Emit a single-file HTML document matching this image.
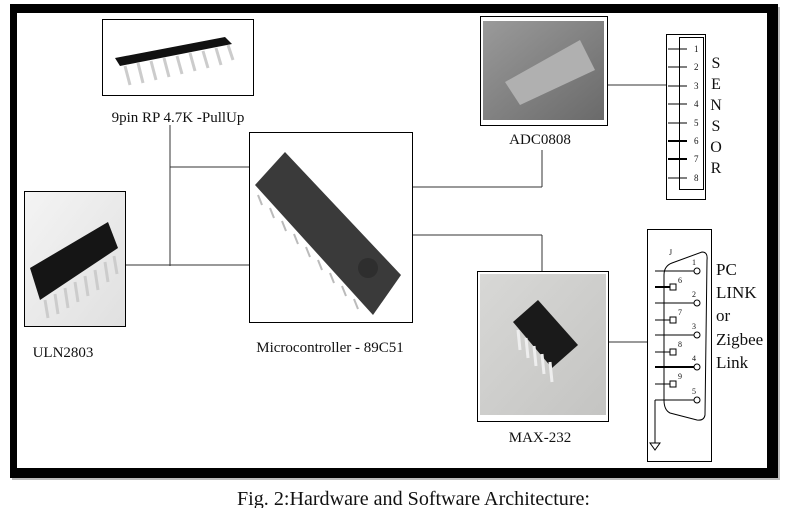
<!DOCTYPE html>
<html><head><meta charset="utf-8"><style>
html,body{margin:0;padding:0;background:#fff;}
svg{display:block;}
text{font-family:"Liberation Serif",serif;fill:#111;}
</style></head><body>
<svg width="787" height="508" viewBox="0 0 787 508" xmlns="http://www.w3.org/2000/svg">
<defs>
<linearGradient id="g1" x1="0" y1="0" x2="1" y2="1"><stop offset="0" stop-color="#f4f4f4"/><stop offset="1" stop-color="#e0e0e0"/></linearGradient>
<linearGradient id="g2" x1="0" y1="0" x2="1" y2="1"><stop offset="0" stop-color="#9a9a9a"/><stop offset="1" stop-color="#6a6a6a"/></linearGradient>
<linearGradient id="g3" x1="0" y1="0" x2="1" y2="1"><stop offset="0" stop-color="#d8d8d6"/><stop offset="1" stop-color="#c4c4c2"/></linearGradient>
</defs>
<rect x="0" y="0" width="787" height="508" fill="#fff"/>
<rect x="12" y="7" width="768" height="473" fill="#bbb"/>
<rect x="10" y="4" width="768" height="474" fill="#000"/>
<rect x="17" y="13" width="750" height="455" fill="#fff"/>

<g stroke="#333" stroke-width="1" fill="none">
<line x1="170" y1="125" x2="170" y2="266"/>
<line x1="170" y1="167" x2="249" y2="167"/>
<line x1="125" y1="265" x2="249" y2="265"/>
<line x1="412" y1="132" x2="412" y2="322"/>
<line x1="412" y1="187" x2="542" y2="187"/>
<line x1="542" y1="150" x2="542" y2="187"/>
<line x1="412" y1="235" x2="542" y2="235"/>
<line x1="542" y1="235" x2="542" y2="271"/>
<line x1="607" y1="85" x2="667" y2="85"/>
<line x1="608" y1="342" x2="647" y2="342"/>
</g>

<rect x="102.5" y="19.5" width="151" height="76" fill="#fff" stroke="#000"/>
<polygon points="115,58 225,37 232,44 120,66" fill="#111"/>
<g stroke="#ccc" stroke-width="3"><line x1="125" y1="66" x2="130" y2="85"/><line x1="138" y1="63" x2="143" y2="83"/><line x1="151" y1="61" x2="156" y2="80"/><line x1="164" y1="58" x2="169" y2="77"/><line x1="177" y1="56" x2="182" y2="74"/><line x1="190" y1="53" x2="195" y2="71"/><line x1="203" y1="51" x2="208" y2="68"/><line x1="216" y1="48" x2="221" y2="65"/><line x1="228" y1="45" x2="233" y2="60"/></g>
<text x="178" y="122" font-size="15" text-anchor="middle">9pin RP 4.7K -PullUp</text>

<rect x="24.5" y="191.5" width="101" height="135" fill="url(#g1)" stroke="#000"/>
<polygon points="30,268 108,222 118,248 40,300" fill="#151515"/>
<g stroke="#ccc" stroke-width="3"><line x1="45" y1="300" x2="48" y2="318"/><line x1="55" y1="294" x2="58" y2="314"/><line x1="65" y1="288" x2="68" y2="308"/><line x1="75" y1="282" x2="78" y2="302"/><line x1="85" y1="276" x2="88" y2="296"/><line x1="95" y1="270" x2="98" y2="290"/><line x1="105" y1="262" x2="108" y2="282"/><line x1="114" y1="256" x2="117" y2="274"/></g>
<text x="63" y="357" font-size="15" text-anchor="middle">ULN2803</text>

<rect x="249.5" y="132.5" width="163" height="190" fill="#fff" stroke="#000"/>
<polygon points="255,185 285,152 401,275 373,315" fill="#3a3a3a"/>
<g stroke="#bbb" stroke-width="2"><line x1="258" y1="195" x2="262" y2="205"/><line x1="270" y1="208" x2="274" y2="218"/><line x1="282" y1="221" x2="286" y2="231"/><line x1="294" y1="234" x2="298" y2="244"/><line x1="306" y1="247" x2="310" y2="257"/><line x1="318" y1="260" x2="322" y2="270"/><line x1="330" y1="273" x2="334" y2="283"/><line x1="342" y1="286" x2="346" y2="296"/><line x1="354" y1="299" x2="358" y2="309"/></g>
<circle cx="368" cy="268" r="10" fill="#2e2e2e"/>
<text x="330" y="352" font-size="15" text-anchor="middle">Microcontroller - 89C51</text>

<rect x="480.5" y="16.5" width="127" height="109" fill="#fff" stroke="#000"/>
<rect x="483" y="21" width="121" height="99" fill="url(#g2)"/>
<polygon points="505,82 580,40 595,70 520,105" fill="#b0b0b0"/>
<text x="540" y="144" font-size="15" text-anchor="middle">ADC0808</text>

<rect x="666.5" y="34.5" width="39" height="165" fill="#fff" stroke="#000"/>
<rect x="679.5" y="37.5" width="24" height="152" fill="none" stroke="#000"/>
<g stroke="#000" stroke-width="1">
<line x1="668" y1="49" x2="687" y2="49"/><line x1="668" y1="67" x2="687" y2="67"/><line x1="668" y1="86" x2="687" y2="86"/><line x1="668" y1="104" x2="687" y2="104"/><line x1="668" y1="123" x2="687" y2="123"/><line x1="668" y1="141" x2="687" y2="141" stroke-width="2"/><line x1="668" y1="159" x2="687" y2="159" stroke-width="2"/><line x1="668" y1="178" x2="687" y2="178"/>
</g>
<g font-size="9" font-family="Liberation Sans">
<text x="694" y="52">1</text><text x="694" y="70">2</text><text x="694" y="89">3</text><text x="694" y="107">4</text><text x="694" y="126">5</text><text x="694" y="144">6</text><text x="694" y="162">7</text><text x="694" y="181">8</text>
</g>
<g font-size="16" text-anchor="middle">
<text x="716" y="68">S</text><text x="716" y="89">E</text><text x="716" y="110">N</text><text x="716" y="131">S</text><text x="716" y="152">O</text><text x="716" y="173">R</text>
</g>

<rect x="477.5" y="271.5" width="131" height="150" fill="#fff" stroke="#000"/>
<rect x="480" y="274" width="126" height="141" fill="url(#g3)"/>
<polygon points="513,322 538,300 578,345 552,368" fill="#1a1a1a"/>
<g stroke="#eee" stroke-width="3"><line x1="518" y1="330" x2="520" y2="350"/><line x1="526" y1="338" x2="528" y2="358"/><line x1="534" y1="346" x2="536" y2="366"/><line x1="542" y1="354" x2="544" y2="374"/><line x1="550" y1="362" x2="552" y2="382"/></g>
<text x="540" y="442" font-size="15" text-anchor="middle">MAX-232</text>

<rect x="647.5" y="229.5" width="64" height="232" fill="#fff" stroke="#000"/>
<path d="M672,263 L702,252 Q708,252 707,260 L705,415 Q704,421 697,420 L670,413 Q664,410 664,400 L664,275 Q664,266 672,263 Z" fill="none" stroke="#000"/>
<g stroke="#000">
<line x1="655" y1="271" x2="694" y2="271"/><line x1="655" y1="303" x2="694" y2="303"/><line x1="655" y1="335" x2="694" y2="335"/><line x1="655" y1="367" x2="694" y2="367" stroke-width="2"/><line x1="655" y1="400" x2="694" y2="400"/>
<line x1="655" y1="287" x2="670" y2="287" stroke-width="2"/><line x1="655" y1="320" x2="670" y2="320"/><line x1="655" y1="352" x2="670" y2="352"/><line x1="655" y1="384" x2="670" y2="384"/>
<line x1="655" y1="400" x2="655" y2="443"/>
</g>
<polygon points="650,443 660,443 655,450" fill="#fff" stroke="#000"/>
<g fill="#fff" stroke="#000">
<circle cx="697" cy="271" r="3"/><circle cx="697" cy="303" r="3"/><circle cx="697" cy="335" r="3"/><circle cx="697" cy="367" r="3"/><circle cx="697" cy="400" r="3"/>
<rect x="670" y="284" width="6" height="6"/><rect x="670" y="317" width="6" height="6"/><rect x="670" y="349" width="6" height="6"/><rect x="670" y="381" width="6" height="6"/>
</g>
<g font-size="8" font-family="Liberation Sans">
<text x="692" y="265">1</text><text x="692" y="297">2</text><text x="692" y="329">3</text><text x="692" y="361">4</text><text x="692" y="394">5</text>
<text x="678" y="283">6</text><text x="678" y="315">7</text><text x="678" y="347">8</text><text x="678" y="379">9</text>
<text x="669" y="255">J</text>
</g>
<g font-size="17">
<text x="716" y="275">PC</text><text x="716" y="298">LINK</text><text x="716" y="321">or</text><text x="716" y="345">Zigbee</text><text x="716" y="368">Link</text>
</g>

<text x="237" y="505" font-size="20" textLength="353" lengthAdjust="spacingAndGlyphs">Fig. 2:Hardware and Software Architecture:</text>
</svg>
</body></html>
